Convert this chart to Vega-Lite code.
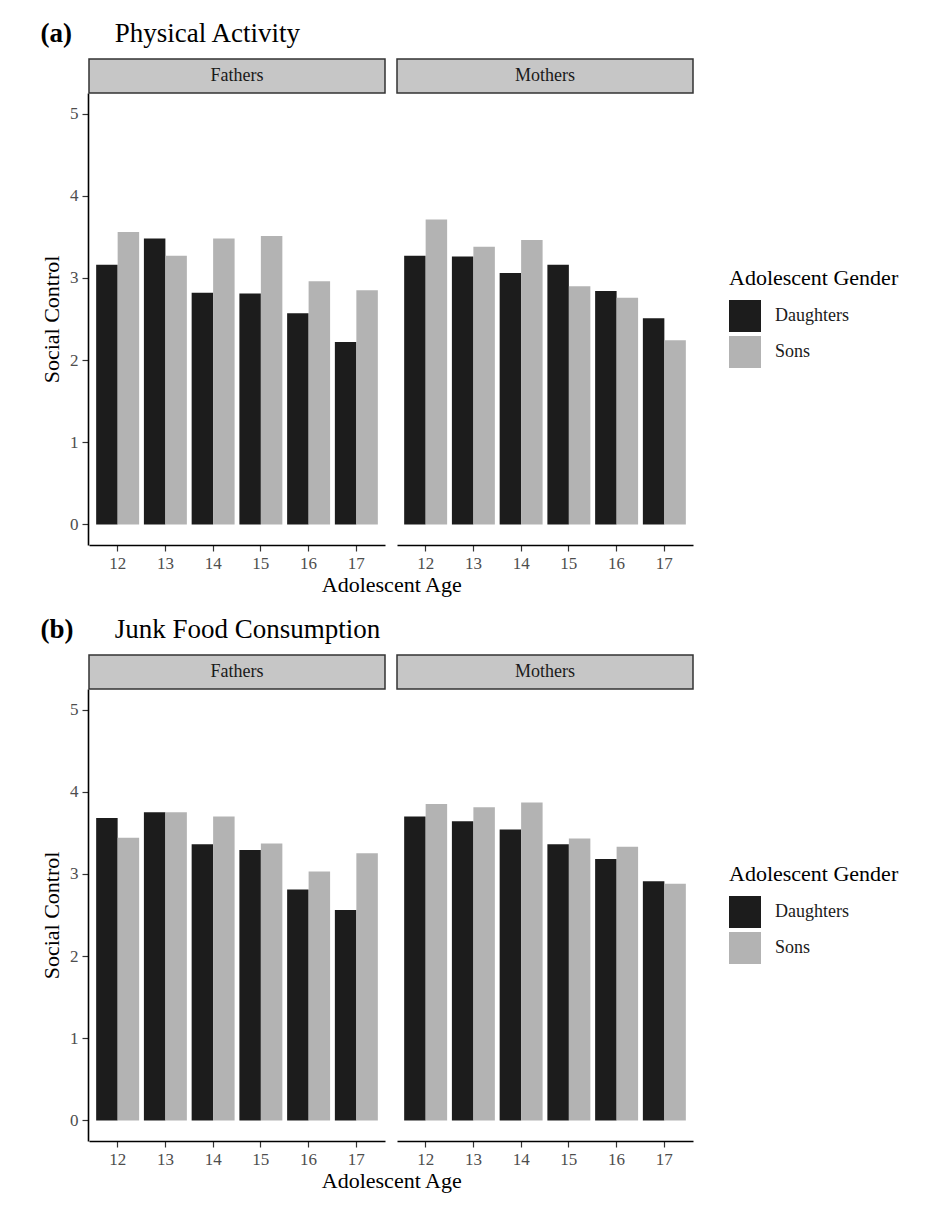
{
  "$schema": "https://vega.github.io/schema/vega-lite/v6.json",
  "background": "white",
  "padding": {"left": 40, "top": 20, "right": 4, "bottom": 4},
  "config": {
    "font": "Liberation Serif",
    "view": {"stroke": null},
    "axis": {
      "grid": false,
      "domainColor": "black",
      "domainWidth": 1.6,
      "tickColor": "#333333",
      "tickWidth": 1.2,
      "tickSize": 6,
      "labelFont": "Liberation Serif",
      "labelFontSize": 17,
      "labelColor": "#4d4d4d",
      "labelPadding": 4,
      "titleFont": "Liberation Serif",
      "titleFontSize": 22,
      "titleFontWeight": "normal",
      "titleColor": "black",
      "titlePadding": 6
    },
    "legend": {
      "titleFont": "Liberation Serif",
      "titleFontSize": 22,
      "titleFontWeight": "normal",
      "titleColor": "black",
      "titlePadding": 10,
      "labelFont": "Liberation Serif",
      "labelFontSize": 18,
      "labelColor": "#1a1a1a",
      "labelOffset": 14,
      "symbolType": "square",
      "symbolSize": 1024,
      "symbolStrokeWidth": 0,
      "symbolOpacity": 1,
      "rowPadding": 4,
      "padding": 0
    }
  },
  "datasets": {
    "physical": [
      {"parent": "Fathers", "age": 12, "gender": "Daughters", "value": 3.16},
      {"parent": "Fathers", "age": 12, "gender": "Sons", "value": 3.56},
      {"parent": "Fathers", "age": 13, "gender": "Daughters", "value": 3.48},
      {"parent": "Fathers", "age": 13, "gender": "Sons", "value": 3.27},
      {"parent": "Fathers", "age": 14, "gender": "Daughters", "value": 2.82},
      {"parent": "Fathers", "age": 14, "gender": "Sons", "value": 3.48},
      {"parent": "Fathers", "age": 15, "gender": "Daughters", "value": 2.81},
      {"parent": "Fathers", "age": 15, "gender": "Sons", "value": 3.51},
      {"parent": "Fathers", "age": 16, "gender": "Daughters", "value": 2.57},
      {"parent": "Fathers", "age": 16, "gender": "Sons", "value": 2.96},
      {"parent": "Fathers", "age": 17, "gender": "Daughters", "value": 2.22},
      {"parent": "Fathers", "age": 17, "gender": "Sons", "value": 2.85},
      {"parent": "Mothers", "age": 12, "gender": "Daughters", "value": 3.27},
      {"parent": "Mothers", "age": 12, "gender": "Sons", "value": 3.71},
      {"parent": "Mothers", "age": 13, "gender": "Daughters", "value": 3.26},
      {"parent": "Mothers", "age": 13, "gender": "Sons", "value": 3.38},
      {"parent": "Mothers", "age": 14, "gender": "Daughters", "value": 3.06},
      {"parent": "Mothers", "age": 14, "gender": "Sons", "value": 3.46},
      {"parent": "Mothers", "age": 15, "gender": "Daughters", "value": 3.16},
      {"parent": "Mothers", "age": 15, "gender": "Sons", "value": 2.90},
      {"parent": "Mothers", "age": 16, "gender": "Daughters", "value": 2.84},
      {"parent": "Mothers", "age": 16, "gender": "Sons", "value": 2.76},
      {"parent": "Mothers", "age": 17, "gender": "Daughters", "value": 2.51},
      {"parent": "Mothers", "age": 17, "gender": "Sons", "value": 2.24}
    ],
    "junk": [
      {"parent": "Fathers", "age": 12, "gender": "Daughters", "value": 3.68},
      {"parent": "Fathers", "age": 12, "gender": "Sons", "value": 3.44},
      {"parent": "Fathers", "age": 13, "gender": "Daughters", "value": 3.75},
      {"parent": "Fathers", "age": 13, "gender": "Sons", "value": 3.75},
      {"parent": "Fathers", "age": 14, "gender": "Daughters", "value": 3.36},
      {"parent": "Fathers", "age": 14, "gender": "Sons", "value": 3.70},
      {"parent": "Fathers", "age": 15, "gender": "Daughters", "value": 3.29},
      {"parent": "Fathers", "age": 15, "gender": "Sons", "value": 3.37},
      {"parent": "Fathers", "age": 16, "gender": "Daughters", "value": 2.81},
      {"parent": "Fathers", "age": 16, "gender": "Sons", "value": 3.03},
      {"parent": "Fathers", "age": 17, "gender": "Daughters", "value": 2.56},
      {"parent": "Fathers", "age": 17, "gender": "Sons", "value": 3.25},
      {"parent": "Mothers", "age": 12, "gender": "Daughters", "value": 3.70},
      {"parent": "Mothers", "age": 12, "gender": "Sons", "value": 3.85},
      {"parent": "Mothers", "age": 13, "gender": "Daughters", "value": 3.64},
      {"parent": "Mothers", "age": 13, "gender": "Sons", "value": 3.81},
      {"parent": "Mothers", "age": 14, "gender": "Daughters", "value": 3.54},
      {"parent": "Mothers", "age": 14, "gender": "Sons", "value": 3.87},
      {"parent": "Mothers", "age": 15, "gender": "Daughters", "value": 3.36},
      {"parent": "Mothers", "age": 15, "gender": "Sons", "value": 3.43},
      {"parent": "Mothers", "age": 16, "gender": "Daughters", "value": 3.18},
      {"parent": "Mothers", "age": 16, "gender": "Sons", "value": 3.33},
      {"parent": "Mothers", "age": 17, "gender": "Daughters", "value": 2.91},
      {"parent": "Mothers", "age": 17, "gender": "Sons", "value": 2.88}
    ]
  },
  "spacing": 20,
  "resolve": {"scale": {"color": "independent"}, "legend": {"color": "independent"}},
  "vconcat": [
    {
      "title": {
        "text": "(a)",
        "subtitle": "\u200b\u00a0\u00a0\u00a0\u00a0\u00a0\u00a0\u00a0\u00a0\u00a0\u00a0\u00a0Physical Activity",
        "anchor": "start",
        "font": "Liberation Serif",
        "fontSize": 27,
        "fontWeight": "bold",
        "color": "black",
        "subtitleFont": "Liberation Serif",
        "subtitleFontSize": 27,
        "subtitleFontWeight": "normal",
        "subtitleColor": "black",
        "subtitlePadding": -27,
        "offset": 10
      },
      "resolve": {"scale": {"color": "independent"}, "legend": {"color": "independent"}},
      "vconcat": [
        {
          "data": {"name": "physical"},
          "title": {"text": "Adolescent Age", "orient": "bottom", "anchor": "middle", "dx": -78, "font": "Liberation Serif", "fontSize": 22, "fontWeight": "normal", "color": "black", "offset": 4},
          "facet": {"column": {"field": "parent", "type": "nominal", "title": null, "header": {"labels": false, "title": null}}},
          "spacing": {"column": 10},
          "spec": {
            "width": 296,
            "height": 452,
            "layer": [
              {
                "transform": [{"aggregate": [{"op": "count", "as": "n"}], "groupby": ["parent"]}],
                "mark": {"type": "rect", "fill": "#c6c6c6", "stroke": "#333333", "strokeWidth": 1.5},
                "encoding": {
                  "y": {"datum": 5.25, "type": "quantitative", "title": "Social Control", "scale": {"domain": [-0.25, 5.25], "nice": false, "zero": false}},
                  "y2": {"datum": 5.664}
                }
              },
              {
                "transform": [{"aggregate": [{"op": "count", "as": "n"}], "groupby": ["parent"]}],
                "mark": {"type": "text", "font": "Liberation Serif", "fontSize": 18, "color": "#1a1a1a", "baseline": "middle"},
                "encoding": {
                  "y": {"datum": 5.457, "type": "quantitative", "title": "Social Control", "scale": {"domain": [-0.25, 5.25], "nice": false, "zero": false}},
                  "text": {"field": "parent", "type": "nominal"}
                }
              },
              {
                "mark": {"type": "bar"},
                "encoding": {
                  "x": {"field": "age", "type": "ordinal", "title": null, "scale": {"paddingInner": 0.1, "paddingOuter": 0.15}, "axis": {"labelAngle": 0}},
                  "xOffset": {"field": "gender", "type": "nominal", "scale": {"paddingInner": 0, "paddingOuter": 0}},
                  "y": {"field": "value", "type": "quantitative", "title": "Social Control", "scale": {"domain": [-0.25, 5.25], "nice": false, "zero": false}, "axis": {"values": [0, 1, 2, 3, 4, 5], "format": "d"}},
                  "color": {
                    "field": "gender", "type": "nominal", "title": "Adolescent Gender",
                    "scale": {"domain": ["Daughters", "Sons"], "range": ["#1c1c1c", "#b3b3b3"]},
                    "legend": {"orient": "none", "legendX": 640, "legendY": 175}
                  }
                }
              }
            ]
          }
        }
      ]
    },
    {
      "title": {
        "text": "(b)",
        "subtitle": "\u200b\u00a0\u00a0\u00a0\u00a0\u00a0\u00a0\u00a0\u00a0\u00a0\u00a0\u00a0Junk Food Consumption",
        "anchor": "start",
        "font": "Liberation Serif",
        "fontSize": 27,
        "fontWeight": "bold",
        "color": "black",
        "subtitleFont": "Liberation Serif",
        "subtitleFontSize": 27,
        "subtitleFontWeight": "normal",
        "subtitleColor": "black",
        "subtitlePadding": -27,
        "offset": 10
      },
      "resolve": {"scale": {"color": "independent"}, "legend": {"color": "independent"}},
      "vconcat": [
        {
          "data": {"name": "junk"},
          "title": {"text": "Adolescent Age", "orient": "bottom", "anchor": "middle", "dx": -78, "font": "Liberation Serif", "fontSize": 22, "fontWeight": "normal", "color": "black", "offset": 4},
          "facet": {"column": {"field": "parent", "type": "nominal", "title": null, "header": {"labels": false, "title": null}}},
          "spacing": {"column": 10},
          "spec": {
            "width": 296,
            "height": 452,
            "layer": [
              {
                "transform": [{"aggregate": [{"op": "count", "as": "n"}], "groupby": ["parent"]}],
                "mark": {"type": "rect", "fill": "#c6c6c6", "stroke": "#333333", "strokeWidth": 1.5},
                "encoding": {
                  "y": {"datum": 5.25, "type": "quantitative", "title": "Social Control", "scale": {"domain": [-0.25, 5.25], "nice": false, "zero": false}},
                  "y2": {"datum": 5.664}
                }
              },
              {
                "transform": [{"aggregate": [{"op": "count", "as": "n"}], "groupby": ["parent"]}],
                "mark": {"type": "text", "font": "Liberation Serif", "fontSize": 18, "color": "#1a1a1a", "baseline": "middle"},
                "encoding": {
                  "y": {"datum": 5.457, "type": "quantitative", "title": "Social Control", "scale": {"domain": [-0.25, 5.25], "nice": false, "zero": false}},
                  "text": {"field": "parent", "type": "nominal"}
                }
              },
              {
                "mark": {"type": "bar"},
                "encoding": {
                  "x": {"field": "age", "type": "ordinal", "title": null, "scale": {"paddingInner": 0.1, "paddingOuter": 0.15}, "axis": {"labelAngle": 0}},
                  "xOffset": {"field": "gender", "type": "nominal", "scale": {"paddingInner": 0, "paddingOuter": 0}},
                  "y": {"field": "value", "type": "quantitative", "title": "Social Control", "scale": {"domain": [-0.25, 5.25], "nice": false, "zero": false}, "axis": {"values": [0, 1, 2, 3, 4, 5], "format": "d"}},
                  "color": {
                    "field": "gender", "type": "nominal", "title": "Adolescent Gender",
                    "scale": {"domain": ["Daughters", "Sons"], "range": ["#1c1c1c", "#b3b3b3"]},
                    "legend": {"orient": "none", "legendX": 640, "legendY": 175}
                  }
                }
              }
            ]
          }
        }
      ]
    }
  ]
}
